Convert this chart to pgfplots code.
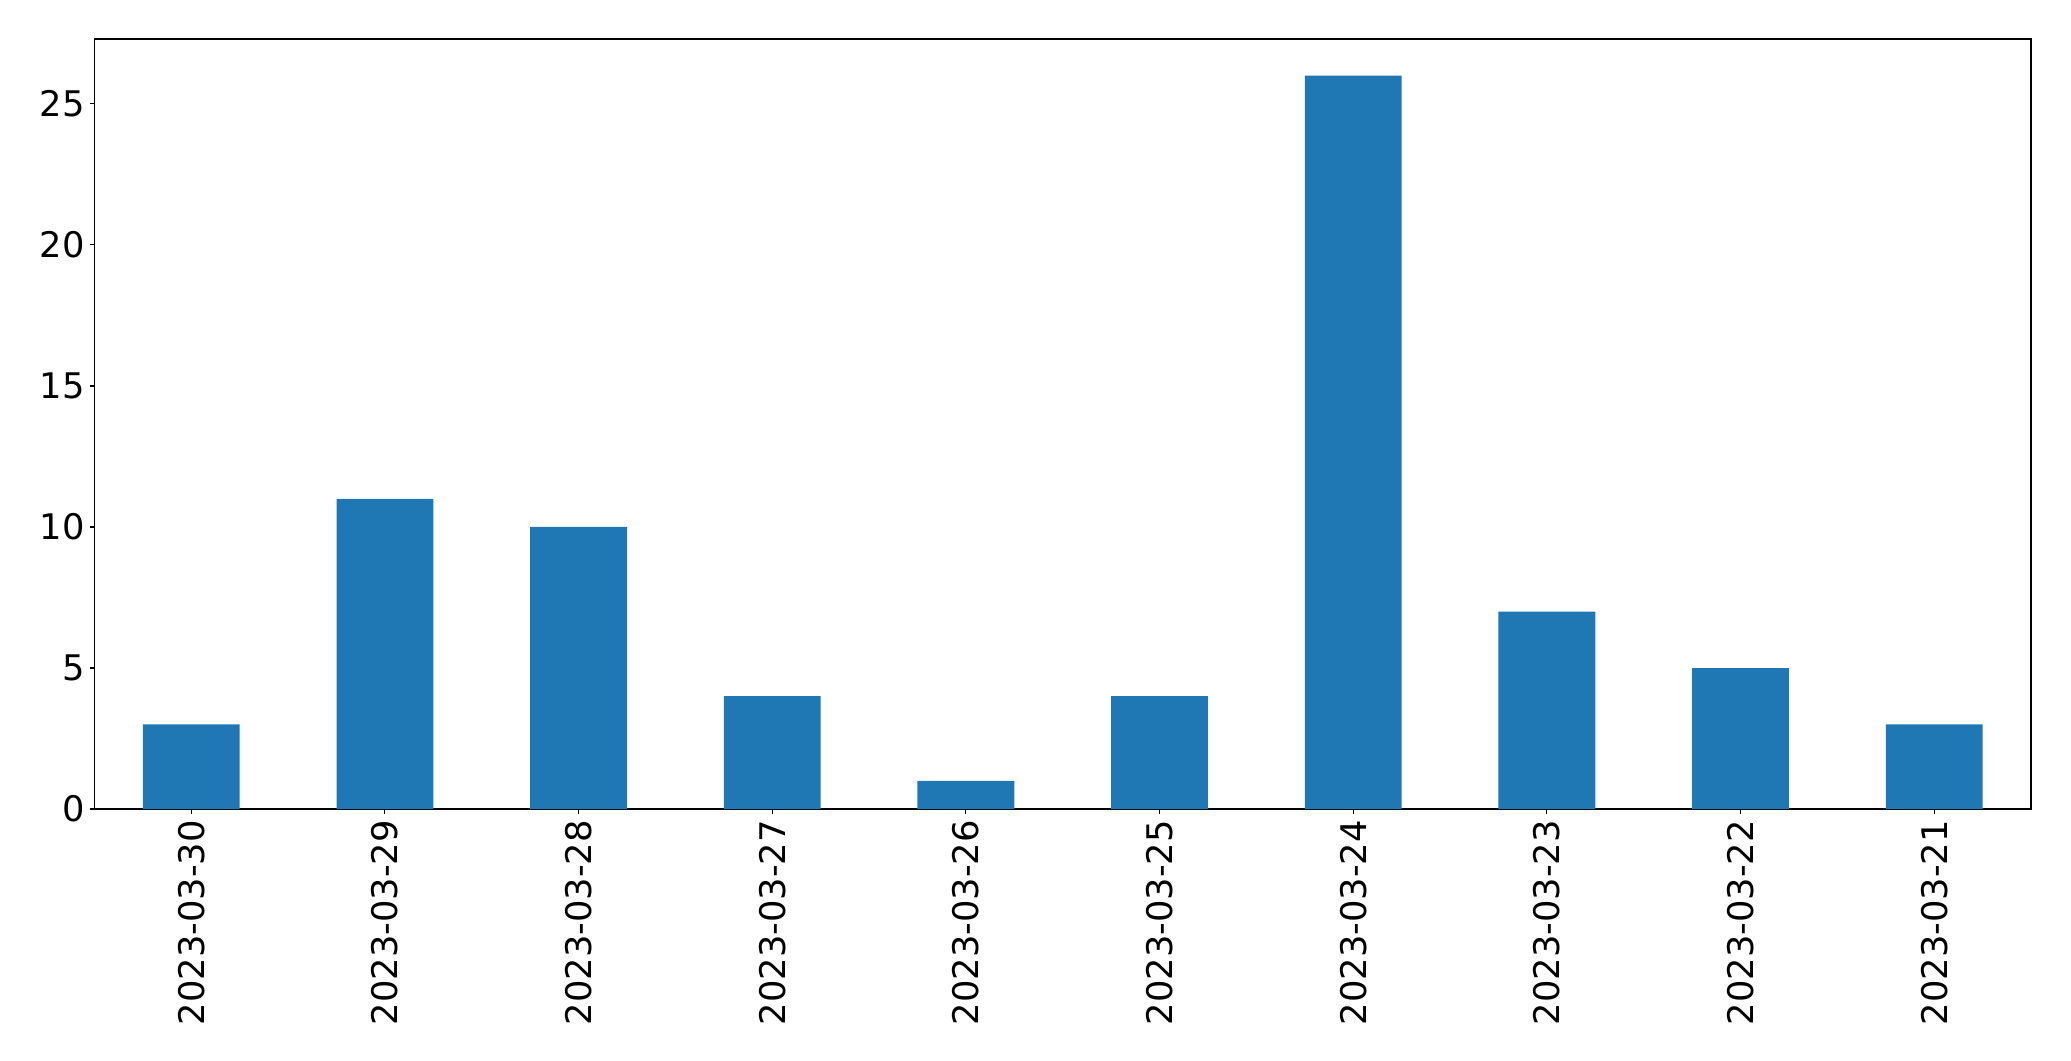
\documentclass[border=0pt]{standalone}
\usepackage{pgfplots}
\pgfplotsset{compat=1.18}
\usepackage{fontspec}
\setmainfont{DejaVu Sans}
\definecolor{mplblue}{HTML}{1F77B4}
\begin{document}
\begin{tikzpicture}
\useasboundingbox (-68bp,-181.4bp) rectangle (1423.1bp,582.5bp);
\begin{axis}[
  at={(0,0)}, anchor=south west,
  scale only axis, width=1394.3bp, height=554.4bp,
  xmin=-0.5, xmax=9.5, ymin=0, ymax=27.3,
  xtick={0,...,9},
  xticklabels={2023-03-30,2023-03-29,2023-03-28,2023-03-27,2023-03-26,2023-03-25,2023-03-24,2023-03-23,2023-03-22,2023-03-21},
  ytick={0,5,10,15,20,25},
  x tick label style={rotate=90, anchor=east},
  tick label style={font=\fontsize{25.4bp}{30bp}\selectfont},
  /pgf/number format/assume math mode=true,
  tick align=outside, major tick length=3.5bp,
  tick style={black, line width=0.8bp},
  axis line style={line width=0.8bp},
  xtick pos=bottom, ytick pos=left,
  xticklabel shift=1bp, yticklabel shift=0bp,
]
\addplot[ybar, bar width=0.5, fill=mplblue, draw=none] coordinates {
(0,3) (1,11) (2,10) (3,4) (4,1) (5,4) (6,26) (7,7) (8,5) (9,3)};
\end{axis}
\end{tikzpicture}
\end{document}
